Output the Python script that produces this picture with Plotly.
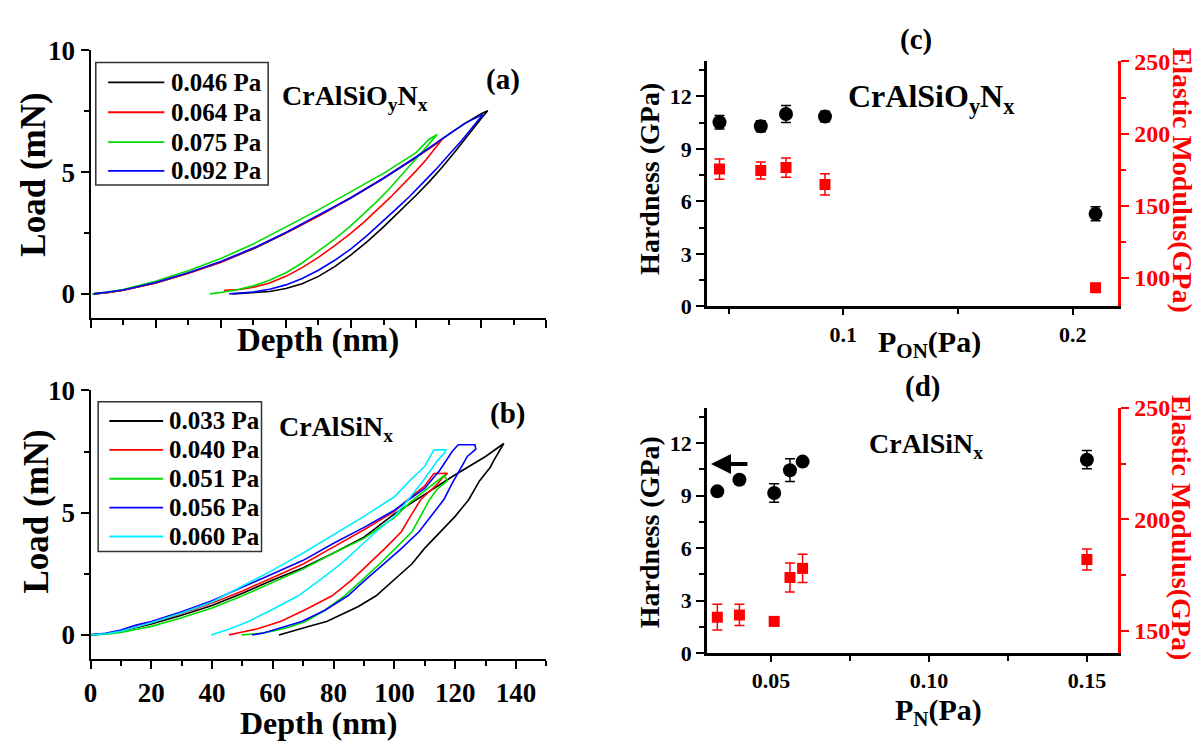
import plotly.graph_objects as go

FONT = "Liberation Serif"
W, H = 1201, 751

# ---------------- panel (a): CrAlSiOyNx load-depth curves ----------------
A_LABELS = ["0.046 Pa", "0.064 Pa", "0.075 Pa", "0.092 Pa"]
A_COLORS = ["#000000", "#FF0000", "#00DD00", "#0000FF"]

A046_DEPTH = [0.8, 5, 10, 20, 30, 40, 50, 60, 70, 80, 90, 100, 110, 115, 120, 122,
              120, 116, 112, 108, 104, 100, 95, 90, 85, 80, 75, 70, 65, 60, 55, 50, 45, 43.6]
A046_LOAD = [0, 0.05, 0.15, 0.45, 0.85, 1.3, 1.85, 2.5, 3.2, 3.95, 4.75, 5.6, 6.55, 7.0, 7.4, 7.52,
             7.2, 6.5, 5.85, 5.2, 4.6, 4.05, 3.4, 2.75, 2.15, 1.6, 1.12, 0.72, 0.42, 0.22, 0.1, 0.04, 0.01, 0.0]

A064_DEPTH = [1, 5, 10, 20, 30, 40, 50, 60, 70, 80, 90, 100, 105, 108.2,
              106, 103, 100, 96, 92, 88, 84, 80, 75, 70, 65, 60, 55, 50, 46, 44, 41]
A064_LOAD = [0, 0.05, 0.15, 0.45, 0.85, 1.3, 1.87, 2.5, 3.2, 3.95, 4.75, 5.6, 6.05, 6.38,
             6.0, 5.5, 5.05, 4.5, 3.95, 3.45, 2.95, 2.5, 1.98, 1.5, 1.08, 0.72, 0.45, 0.27, 0.18, 0.17, 0.15]

A075_DEPTH = [0.5, 5, 10, 20, 30, 40, 50, 60, 70, 80, 90, 100, 104, 106.5,
              104, 100, 96, 92, 88, 84, 80, 75, 70, 65, 60, 55, 50, 45, 40, 36.7]
A075_LOAD = [0, 0.07, 0.18, 0.52, 0.95, 1.45, 2.05, 2.75, 3.45, 4.2, 4.95, 5.8, 6.35, 6.55,
             6.15, 5.55, 4.95, 4.35, 3.8, 3.3, 2.8, 2.25, 1.75, 1.27, 0.87, 0.56, 0.33, 0.17, 0.06, 0.0]

A092_DEPTH = [1, 5, 10, 20, 30, 40, 50, 60, 70, 80, 90, 100, 110, 115, 120.5,
              118, 114, 110, 106, 102, 98, 94, 90, 85, 80, 75, 70, 65, 60, 55, 50, 45, 42.6]
A092_LOAD = [0, 0.06, 0.16, 0.47, 0.87, 1.33, 1.88, 2.52, 3.22, 3.95, 4.75, 5.62, 6.55, 7.0, 7.37,
             6.95, 6.3, 5.7, 5.1, 4.55, 4.0, 3.5, 3.0, 2.4, 1.85, 1.38, 0.97, 0.63, 0.37, 0.19, 0.08, 0.02, 0.0]

# ---------------- panel (b): CrAlSiNx load-depth curves ----------------
B_LABELS = ["0.033 Pa", "0.040 Pa", "0.051 Pa", "0.056 Pa", "0.060 Pa"]
B_COLORS = ["#000000", "#FF0000", "#00DD00", "#0000FF", "#00EEFF"]

B033_DEPTH = [0, 5, 10, 20, 30, 40, 50, 60, 70, 80, 90, 100, 110, 120, 130, 136,
              133, 131.5, 128, 124.5, 120, 115, 110, 105.8, 100, 94, 88, 82, 77.7, 72, 67, 62]
B033_LOAD = [0, 0.05, 0.15, 0.45, 0.8, 1.2, 1.7, 2.25, 2.75, 3.35, 4.0, 4.95, 5.75, 6.55, 7.3, 7.83,
             7.2, 6.85, 6.3, 5.54, 4.85, 4.22, 3.55, 2.91, 2.25, 1.6, 1.15, 0.8, 0.55, 0.35, 0.18, 0.0]

B040_DEPTH = [0, 5, 10, 20, 30, 40, 50, 60, 70, 80, 90, 100, 105, 110, 113, 117.5,
              116, 114, 111, 108.7, 105.5, 102.3, 97, 91.7, 86, 79.5, 71, 62.5, 55, 50, 45.6]
B040_LOAD = [0, 0.06, 0.17, 0.5, 0.88, 1.3, 1.8, 2.35, 2.9, 3.6, 4.3, 5.05, 5.6, 6.1, 6.6, 6.61,
             6.45, 6.15, 5.8, 5.54, 4.9, 4.22, 3.55, 2.91, 2.25, 1.6, 1.05, 0.55, 0.25, 0.12, 0.0]

B051_DEPTH = [0, 5, 10, 20, 30, 40, 50, 60, 70, 80, 90, 100, 105, 110, 116.4,
              117.4, 114, 111.6, 108.5, 105.8, 100, 95.2, 89, 83.6, 77, 70.7, 65, 60.2, 55, 49.7]
B051_LOAD = [0, 0.03, 0.1, 0.35, 0.7, 1.1, 1.6, 2.15, 2.7, 3.35, 3.95, 4.8, 5.4, 5.9, 6.52,
             6.3, 5.95, 5.54, 4.85, 4.22, 3.5, 2.91, 2.2, 1.6, 1.0, 0.55, 0.3, 0.16, 0.05, 0.0]

B056_DEPTH = [0, 5, 10, 15, 20, 30, 40, 50, 60, 70, 80, 90, 100, 110, 115, 119, 121, 126.5,
              126.8, 124, 122, 119, 116.3, 112, 108.1, 102, 96.4, 90, 84.7, 77, 69.5, 62, 57, 53.2]
B056_LOAD = [0, 0.07, 0.2, 0.4, 0.55, 0.95, 1.4, 1.95, 2.5, 3.05, 3.75, 4.4, 5.1, 6.0, 6.75, 7.5, 7.78, 7.78,
             7.6, 7.3, 6.85, 6.2, 5.54, 4.85, 4.22, 3.5, 2.91, 2.2, 1.6, 1.0, 0.55, 0.25, 0.08, 0.0]

B060_DEPTH = [0, 5, 10, 20, 30, 40, 50, 60, 70, 80, 90, 100, 105, 110, 113, 117,
              116.5, 114, 110, 105, 100, 94, 88, 82.4, 75, 68.4, 60, 52, 46, 42, 39.7]
B060_LOAD = [0, 0.05, 0.15, 0.5, 0.9, 1.35, 2.0, 2.65, 3.35, 4.1, 4.85, 5.65, 6.3, 6.9, 7.57, 7.57,
             7.45, 7.1, 6.4, 5.6, 4.85, 4.22, 3.55, 2.91, 2.2, 1.6, 1.05, 0.55, 0.25, 0.08, 0.0]

# ---------------- panel (c): CrAlSiOyNx hardness / modulus vs P_ON ----------------
C_PRESSURE = [0.046, 0.064, 0.075, 0.092, 0.21]
C_HARDNESS = [10.53, 10.3, 11.0, 10.86, 5.29]
C_HARDNESS_ERR = [0.39, 0.31, 0.48, 0.30, 0.40]
C_MODULUS = [175.3, 174.4, 176.4, 164.7, 92.9]
C_MODULUS_ERR = [7.1, 5.9, 6.7, 7.4, 3.0]

# ---------------- panel (d): CrAlSiNx hardness / modulus vs P_N ----------------
D_PRESSURE = [0.033, 0.040, 0.051, 0.056, 0.060, 0.150]
D_HARDNESS = [9.24, 9.9, 9.15, 10.45, 10.94, 11.05]
D_HARDNESS_ERR = [0.19, 0.23, 0.53, 0.65, 0.18, 0.52]
D_MODULUS = [156.1, 157.1, 154.2, 173.9, 178.0, 182.0]
D_MODULUS_ERR = [5.8, 4.8, 2.0, 6.5, 6.3, 4.7]


def px(x):
    return x / W


def py(y):
    return 1 - y / H


fig = go.Figure()

a_curves = [(A046_DEPTH, A046_LOAD), (A064_DEPTH, A064_LOAD),
            (A075_DEPTH, A075_LOAD), (A092_DEPTH, A092_LOAD)]
for (d, l), name, col in zip(a_curves, A_LABELS, A_COLORS):
    fig.add_trace(go.Scatter(x=d, y=l, mode="lines", name=name,
                             line=dict(color=col, width=1.6),
                             xaxis="x", yaxis="y", showlegend=False))

b_curves = [(B033_DEPTH, B033_LOAD), (B040_DEPTH, B040_LOAD), (B051_DEPTH, B051_LOAD),
            (B056_DEPTH, B056_LOAD), (B060_DEPTH, B060_LOAD)]
for (d, l), name, col in zip(b_curves, B_LABELS, B_COLORS):
    fig.add_trace(go.Scatter(x=d, y=l, mode="lines", name=name,
                             line=dict(color=col, width=1.6),
                             xaxis="x2", yaxis="y2", showlegend=False))


def err(arr, col):
    return dict(type="data", array=arr, color=col, thickness=1.5, width=5)


fig.add_trace(go.Scatter(x=C_PRESSURE, y=C_HARDNESS, mode="markers", name="Hardness",
                         marker=dict(symbol="circle", size=14, color="black"),
                         error_y=err(C_HARDNESS_ERR, "black"),
                         xaxis="x3", yaxis="y3", showlegend=False))
fig.add_trace(go.Scatter(x=C_PRESSURE, y=C_MODULUS, mode="markers", name="Elastic Modulus",
                         marker=dict(symbol="square", size=11, color="#FF0000"),
                         error_y=err(C_MODULUS_ERR, "#FF0000"),
                         xaxis="x3", yaxis="y4", showlegend=False))
fig.add_trace(go.Scatter(x=D_PRESSURE, y=D_HARDNESS, mode="markers", name="Hardness",
                         marker=dict(symbol="circle", size=14, color="black"),
                         error_y=err(D_HARDNESS_ERR, "black"),
                         xaxis="x4", yaxis="y5", showlegend=False))
fig.add_trace(go.Scatter(x=D_PRESSURE, y=D_MODULUS, mode="markers", name="Elastic Modulus",
                         marker=dict(symbol="square", size=11, color="#FF0000"),
                         error_y=err(D_MODULUS_ERR, "#FF0000"),
                         xaxis="x4", yaxis="y6", showlegend=False))

# ---------------- axes ----------------
LEFT_X = [px(84), px(542.5)]
RIGHT_X = [px(704), px(1118)]
A_Y = [py(315), py(36.7)]
B_Y = [py(669.3), py(390)]
C_Y = [py(302.7), py(48.3)]
D_Y = [py(662.7), py(408.3)]


def base_axis(**kw):
    d = dict(showline=True, linewidth=2, linecolor="black", showgrid=False, zeroline=False,
             ticks="outside", ticklen=8, tickwidth=2, tickcolor="black",
             tickfont=dict(family=FONT, size=27, color="black", weight="bold"))
    d.update(kw)
    return d


def minor(dtick, ticks="outside", col="black", ln=5):
    return dict(ticks=ticks, dtick=dtick, ticklen=ln, tickwidth=1.5, tickcolor=col, showgrid=False)


TF22 = dict(family=FONT, size=22, color="black", weight="bold")
TF_RED = dict(family=FONT, size=24, color="#FF0000", weight="bold")

layout = dict(
    width=W, height=H, margin=dict(l=0, r=0, t=0, b=0),
    paper_bgcolor="white", plot_bgcolor="white",
    font=dict(family=FONT, color="black"), showlegend=False,
    # (a)
    xaxis=base_axis(domain=LEFT_X, anchor="y", range=[0, 140], tick0=0, dtick=20,
                    minor=minor(10), showticklabels=False),
    yaxis=base_axis(domain=A_Y, anchor="x", range=[-1, 10], tick0=0, dtick=5, minor=minor(2.5)),
    xaxis5=base_axis(overlaying="x", anchor="y", side="top", range=[0, 140], tick0=0, dtick=20,
                     ticks="inside", minor=minor(10, "inside"), showticklabels=False),
    yaxis7=base_axis(overlaying="y", anchor="x", side="right", range=[-1, 10], tick0=0, dtick=5,
                     ticks="inside", minor=minor(2.5, "inside"), showticklabels=False),
    # (b)
    xaxis2=base_axis(domain=LEFT_X, anchor="y2", range=[0, 150], tick0=0, dtick=20, minor=minor(10),
                     ticklabelstandoff=0),
    yaxis2=base_axis(domain=B_Y, anchor="x2", range=[-1, 10], tick0=0, dtick=5, minor=minor(2.5)),
    xaxis6=base_axis(overlaying="x2", anchor="y2", side="top", range=[0, 150], tick0=0, dtick=20,
                     ticks="inside", minor=minor(10, "inside"), showticklabels=False),
    yaxis8=base_axis(overlaying="y2", anchor="x2", side="right", range=[-1, 10], tick0=0, dtick=5,
                     ticks="inside", minor=minor(2.5, "inside"), showticklabels=False),
    # (c)
    xaxis3=base_axis(domain=RIGHT_X, anchor="y3", range=[0.0405, 0.22], tick0=0, dtick=0.1,
                     linewidth=2.5, minor=minor(0.05), ticklen=6, tickfont=TF22),
    yaxis3=base_axis(domain=C_Y, anchor="x3", range=[0, 14], tick0=0, dtick=3, linewidth=2.5,
                     minor=minor(1.5), tickfont=TF22),
    yaxis4=base_axis(overlaying="y3", anchor="x3", side="right", range=[80, 250], tick0=0, dtick=50,
                     linewidth=3, linecolor="#FF0000", tickcolor="#FF0000",
                     minor=minor(25, col="#FF0000"), tickfont=TF_RED),
    xaxis7=base_axis(overlaying="x3", anchor="y3", side="top", range=[0.0405, 0.22], tick0=0, dtick=0.05,
                     linewidth=2.5, ticks="inside", ticklen=6, showticklabels=False),
    # (d)
    xaxis4=base_axis(domain=RIGHT_X, anchor="y5", range=[0.0297, 0.160], tick0=0, dtick=0.05,
                     tickformat=".2f", linewidth=2.5, minor=minor(0.025), ticklen=6, tickfont=TF22),
    yaxis5=base_axis(domain=D_Y, anchor="x4", range=[0, 14], tick0=0, dtick=3, linewidth=2.5,
                     minor=minor(1.5), tickfont=TF22),
    yaxis6=base_axis(overlaying="y5", anchor="x4", side="right", range=[140, 250], tick0=0, dtick=50,
                     linewidth=3, linecolor="#FF0000", tickcolor="#FF0000",
                     minor=minor(25, col="#FF0000"), tickfont=TF_RED),
    xaxis8=base_axis(overlaying="x4", anchor="y5", side="top", range=[0.0297, 0.160], tick0=0, dtick=0.025,
                     linewidth=2.5, ticks="inside", ticklen=6, showticklabels=False),
)
fig.update_layout(**layout)


def note(text, x, y, size, color="black", angle=0, xanchor="center", yanchor="middle"):
    fig.add_annotation(text=text, x=px(x), y=py(y), xref="paper", yref="paper",
                       showarrow=False, textangle=angle, xanchor=xanchor, yanchor=yanchor,
                       font=dict(family=FONT, size=size, color=color, weight="bold"))


# ---------------- legends (box, line samples, labels) ----------------
def legend_box(x0, x1, y0, y1, rows, labels, colors, line_x0, line_x1, text_x):
    fig.add_shape(type="rect", xref="paper", yref="paper",
                  x0=px(x0), x1=px(x1), y0=py(y1), y1=py(y0),
                  line=dict(color="#333333", width=1.5), fillcolor="rgba(0,0,0,0)")
    for yy, lab, col in zip(rows, labels, colors):
        fig.add_shape(type="line", xref="paper", yref="paper",
                      x0=px(line_x0), x1=px(line_x1), y0=py(yy), y1=py(yy),
                      line=dict(color=col, width=1.8))
        note(lab, text_x, yy, 25, xanchor="left")


legend_box(89.3, 262.7, 49.3, 176.7, [70, 101, 132, 162], A_LABELS, A_COLORS, 101.7, 158.3, 163)
legend_box(91.7, 256, 401.7, 557.3, [421.7, 451.7, 481.7, 511.7, 541.7], B_LABELS, B_COLORS,
           103, 157, 161)

# axis titles
note("Load (mN)", 27, 166, 35, angle=-90)
note("Load (mN)", 30, 516, 35, angle=-90)
note("Depth (nm)", 313, 338, 33)
note("Depth (nm)", 313, 735, 32)
note("Hardness (GPa)", 646, 170, 28, angle=-90)
note("Hardness (GPa)", 647, 537, 28, angle=-90)
note("Elastic Modulus(GPa)", 1182, 171, 28, color="#FF0000", angle=90)
note("Elastic Modulus(GPa)", 1182, 532, 28, color="#FF0000", angle=90)
note("P<sub>ON</sub>(Pa)", 928, 342, 30)
note("P<sub>N</sub>(Pa)", 937, 724, 30)

# panel labels and material labels
note("(a)", 499, 67, 29)
note("(b)", 503, 414, 29)
note("(c)", 914, 25, 29)
note("(d)", 921, 386, 29)
note("CrAlSiO<sub>y</sub>N<sub>x</sub>", 350, 86, 28)
note("CrAlSiN<sub>x</sub>", 331, 429, 28)
note("CrAlSiO<sub>y</sub>N<sub>x</sub>", 930, 87, 32)
note("CrAlSiN<sub>x</sub>", 924, 447, 28)

# arrow in (d) pointing to the hardness axis
fig.add_annotation(x=0.031, y=10.8, ax=0.043, ay=10.8, xref="x4", yref="y5", axref="x4", ayref="y5",
                   showarrow=True, arrowhead=2, arrowsize=1, arrowwidth=4, arrowcolor="black", text="")

fig.write_html("out.html")
